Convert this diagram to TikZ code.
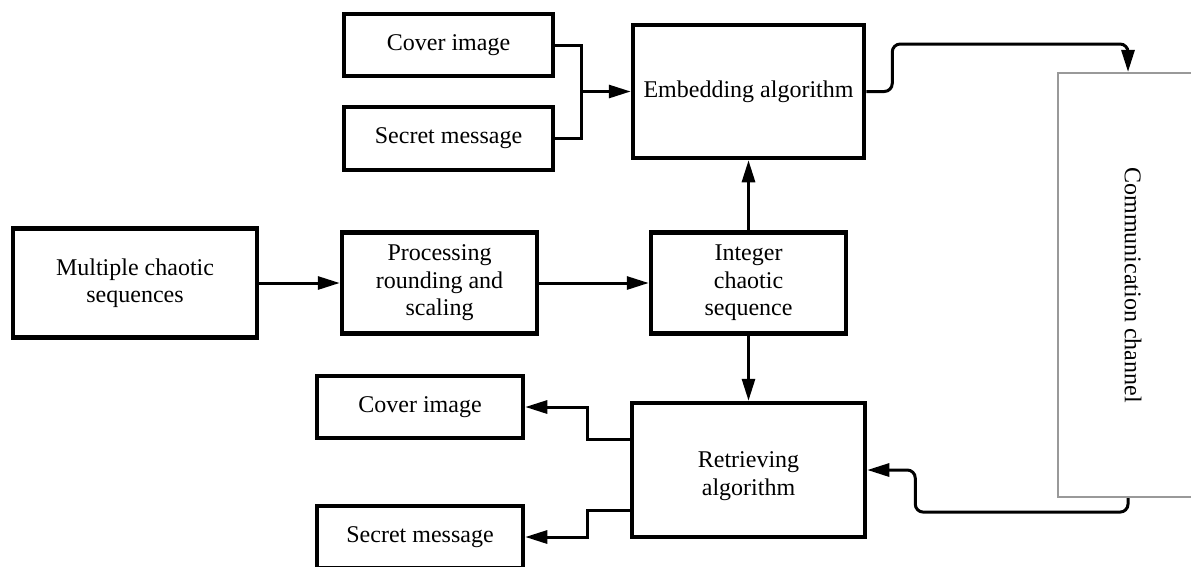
\documentclass[tikz,border=0pt]{standalone}
\usepackage{fontspec}
\setmainfont{Liberation Serif}
\usetikzlibrary{arrows.meta}
\begin{document}
\begin{tikzpicture} [x=1pt, y=-1pt]
    \tikzstyle{every node} = [align=center, font=\fontsize{24}{27.5}\selectfont]
    \tikzstyle{block} = [draw, line width=4.5pt, inner sep=0pt]
    \tikzstyle{channelbox} = [draw=black!40, line width=2.2pt, inner sep=0pt]
    \tikzstyle{arr} = [-{Triangle[length=22pt,width=13pt]}, line width=3pt]
    \useasboundingbox (0,0) rectangle (1191,566);
    % embedding side
    \node [block, minimum width=209pt, minimum height=62pt] (cover) at (448.5,45) {Cover image};
    \node [block, minimum width=209pt, minimum height=63pt] (secret) at (448.5,138.5) {Secret message};
    \node [block, minimum width=231pt, minimum height=133pt] (embed) at (748.5,91.5) {Embedding algorithm};
    % key sequence
    \node [block, minimum width=244pt, minimum height=109pt] (multi) at (135,283) {Multiple chaotic\\sequences};
    \node [block, minimum width=195pt, minimum height=101pt] (proc) at (439.5,283) {Processing\\rounding and\\scaling};
    \node [block, minimum width=195pt, minimum height=101pt] (integer) at (748.5,283) {Integer\\chaotic\\sequence};
    % retrieving side
    \node [block, minimum width=233pt, minimum height=134pt,
           label={[yshift=-6pt]center:Retrieving\\algorithm}] (retrieve) at (748.5,470) {};
    \node [block, minimum width=206pt, minimum height=62pt] (coverout) at (420,407) {Cover image};
    \node [block, minimum width=206pt, minimum height=62pt] (secretout) at (420,537) {Secret message};
    \node [channelbox, minimum width=150pt, minimum height=424pt] (channel) at (1133,285) {};
    \node [rotate=-90] (channeltext) at (channel.center) {Communication channel};
    \coordinate (join) at (581,91.5);

    \draw [line width=3pt] (cover.east) -| (join);
    \draw [line width=3pt] (secret.east) -| (join);
    \draw [arr] (join) -- (embed.west);
    \draw [arr] (multi.east) -- (proc.west);
    \draw [arr] (proc.east) -- (integer.west);
    \draw [arr] (integer.north) -- (embed.south);
    \draw [arr] (integer.south) -- (retrieve.north);
    \draw [arr, rounded corners=8pt] (embed.east) -- ++(26,0) -- ++(0,-47.5) -| ([xshift=-5pt]channel.north);
    \draw [arr, rounded corners=8pt] ([xshift=-5pt]channel.south) -- ++(0,14) -| ([xshift=48pt]retrieve.east) -- (retrieve.east);
    \draw [arr] ([yshift=31pt]retrieve.west) -- ++(-42,0) |- (coverout.east);
    \draw [arr] ([yshift=-40pt]retrieve.west) -- ++(-42,0) |- (secretout.east);
\end{tikzpicture}
\end{document}
